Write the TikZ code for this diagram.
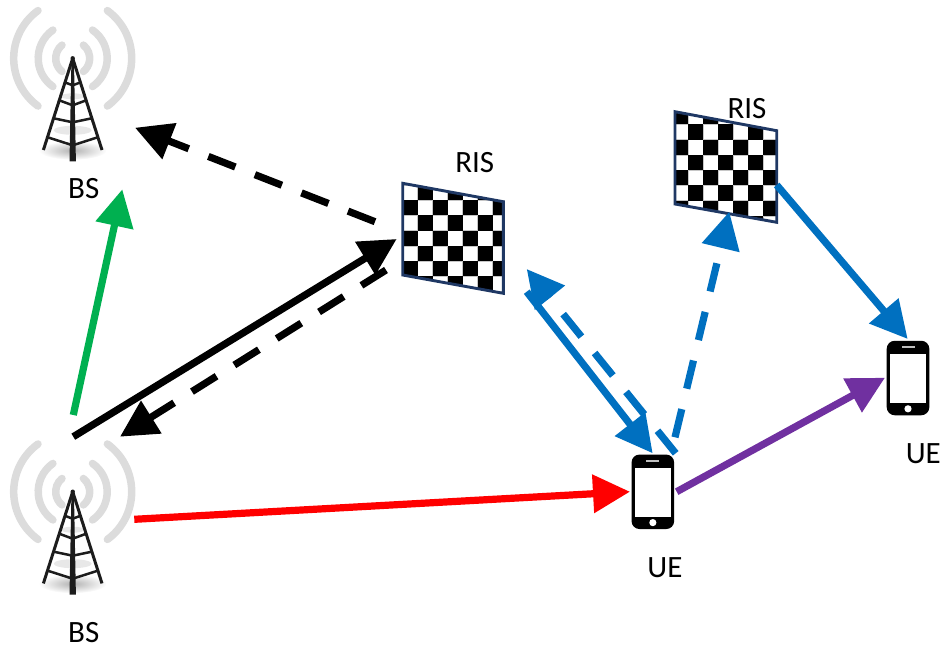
\documentclass[tikz,border=0pt]{standalone}
\usepackage{fontspec}
\setmainfont{Carlito}
\usetikzlibrary{arrows.meta}
\definecolor{arrgreen}{HTML}{00B050}
\definecolor{arrred}{HTML}{FF0000}
\definecolor{arrblue}{HTML}{0070C0}
\definecolor{arrpurple}{HTML}{7030A0}
\definecolor{risframe}{HTML}{1F3864}
\definecolor{waves}{HTML}{DCDCDC}
\definecolor{mastcol}{HTML}{1C1C1C}
\tikzset{
  conn/.style={line width=7.2pt,draw=#1,-{Triangle[length=37pt,width=37pt]}},
  dashconn/.style={conn=#1,dash pattern=on 29pt off 21pt},
  lab/.style={inner sep=0pt,font=\fontsize{31}{32}\selectfont},
  wave/.style={draw=waves,line width=7.5pt,line cap=round},
  leg/.style={draw=mastcol,line width=3pt},
  brace/.style={draw=mastcol,line width=2.5pt,line join=round},
  phonebody/.style={fill=black,rounded corners=8pt,minimum width=42.6pt,minimum height=74.5pt,inner sep=0pt},
  risedge/.style={draw=risframe,line width=2.9pt,line join=miter},
}
% \towerart{x}{y}: apex position
\newcommand{\towerart}[2]{%
\begin{scope}[shift={(#1,#2)}]
  \foreach \r/\a in {59/54,34.5/55,17/51}{
    \draw[wave] ({-\r*cos(\a)},{-\r*sin(\a)+1}) arc[start angle=180-\a,end angle=180+\a,radius=\r pt];
    \draw[wave] ({\r*cos(\a)},{-\r*sin(\a)+1}) arc[start angle=\a,end angle=-\a,radius=\r pt];
  }
  \shade[inner color=gray!60,outer color=white] (0,93) ellipse (34pt and 9.5pt);
  \fill[gray!18] (0,39) ellipse (12pt and 3pt);
  \fill[gray!18] (0,73) ellipse (19pt and 4.5pt);
  \draw[leg] (0,1) -- (-29.3,92.7);
  \draw[leg] (0,1) -- (29.3,92.7);
  \foreach \h/\w/\m in {25/8/28,43/13.5/48,61/19/65,80/25/88}{
    \draw[brace] (-\w,\h) -- (0,\m) -- (\w,\h);
  }
  \fill[mastcol] (-1.2,0) -- (1.2,0) -- (3.2,104) -- (-3.2,104) -- cycle;
  \fill[mastcol] (0,1) circle (2.2pt);
\end{scope}}
% \phoneart{name}{cx}{cy}
\newcommand{\phoneart}[3]{%
  \node[phonebody] (#1) at (#2,#3) {};
  \begin{scope}[shift={(#2,#3)}]
    \fill[white] (-18,-24.3) rectangle (18,24.7);
    \fill[white!75!black] (-6.5,-32) rectangle (6.5,-30.3);
    \fill[white] (0,30.8) circle (3.6pt);
  \end{scope}}
% \risart{x0}{y0}{parity}{corners}: grid origin, parity of black squares, four frame corners
\newcommand{\risart}[7]{%
  \begin{scope}
    \clip #4 -- #5 -- #6 -- #7 -- cycle;
    \fill[white] #4 -- #5 -- #6 -- #7 -- cycle;
    \foreach \c in {0,...,7}{
      \foreach \r in {0,...,7}{
        \draw[gray!45,line width=0.5pt] ({#1+15*\c},{#2+15.25*\r}) rectangle ({#1+15*\c+15},{#2+15.25*\r+15.25});
      }
    }
    \foreach \c in {0,...,7}{
      \foreach \r in {0,...,7}{
        \pgfmathtruncatemacro{\odd}{mod(\c+\r+#3,2)}
        \ifnum\odd=1
          \fill[black] ({#1+15*\c},{#2+15.25*\r}) rectangle ({#1+15*\c+15},{#2+15.25*\r+15.25});
        \fi
      }
    }
  \end{scope}
  \draw[risedge] #4 -- #5 -- #6 -- #7 -- cycle;}
\begin{document}
\begin{tikzpicture}[x=1pt,y=-1pt]
\useasboundingbox (0,0) rectangle (943,649);
% equipment
\towerart{72.7}{57.3}
\towerart{72.7}{490.7}
\risart{402.7}{184.8}{0}{(402.7,183.3)}{(503.3,201.7)}{(503.3,293.3)}{(402.7,275)}
\risart{673.3}{109}{1}{(675,111.7)}{(776.7,130.7)}{(776.7,222.3)}{(675,204)}
\phoneart{ueone}{652.85}{491.8}
\phoneart{uetwo}{908}{378}
% labels
\node[lab] (bsone) at (83.8,189) {BS};
\node[lab] (bstwo) at (83.8,632.7) {BS};
\node[lab] (risone) at (474.7,163) {RIS};
\node[lab] (ristwo) at (747,108.3) {RIS};
\node[lab] (ueonelab) at (665,567.5) {UE};
\node[lab] (uetwolab) at (923.3,453.3) {UE};
% connector ends
\coordinate (topdashS) at (375,221.7);
\coordinate (topdashT) at (135,127.7);
\coordinate (greenS) at (73.3,415);
\coordinate (greenT) at (122.3,189.3);
\coordinate (blkS) at (73.3,436.7);
\coordinate (blkT) at (396.7,239);
\coordinate (blkdS) at (386,270);
\coordinate (blkdT) at (120,436.7);
\coordinate (redS) at (134.3,519.3);
\coordinate (redT) at (630,491.7);
\coordinate (bluS) at (526.7,291.7);
\coordinate (bluT) at (652.7,453.3);
\coordinate (bludS) at (675.7,453.3);
\coordinate (bludT) at (526.7,269);
\coordinate (upS) at (675,437.3);
\coordinate (upT) at (729.3,211.7);
\coordinate (downS) at (776.7,185);
\coordinate (downT) at (907.7,339);
\coordinate (purS) at (676.7,491.7);
\coordinate (purT) at (885,377.7);
% connectors
\draw[dashconn=black] (topdashS) -- (topdashT);
\draw[conn=arrgreen] (greenS) -- (greenT);
\draw[conn=black] (blkS) -- (blkT);
\draw[dashconn=black] (blkdS) -- (blkdT);
\draw[conn=arrred] (redS) -- (redT);
\draw[conn=arrblue] (bluS) -- (bluT);
\draw[dashconn=arrblue] (bludS) -- (bludT);
\draw[dashconn=arrblue] (upS) -- (upT);
\draw[conn=arrblue] (downS) -- (downT);
\draw[conn=arrpurple] (purS) -- (purT);
\end{tikzpicture}
\end{document}
